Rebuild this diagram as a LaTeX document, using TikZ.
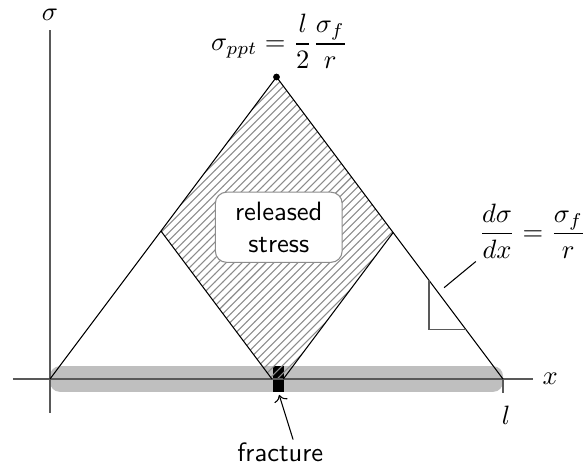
\documentclass[tikz,border=0pt]{standalone}
\usepackage{amsmath}
\usetikzlibrary{arrows.meta, patterns}
\definecolor{barcolor}{gray}{0.75}
\definecolor{axisgray}{gray}{0.35}
\definecolor{hatchgray}{gray}{0.55}
\definecolor{boxborder}{gray}{0.55}

\begin{document}
\begin{tikzpicture}[>=To]

  \useasboundingbox (-0.662,-1.245) rectangle (7.086,5.02);

  % Bar under load
  \fill[barcolor, rounded corners=0.13cm] (0,-0.17) rectangle (6,0.17);

  % Fracture
  \node[fill=black, inner sep=0pt, minimum width=0.15cm, minimum height=0.34cm] (fracture) at (3.025,0) {};

  % Released stress region
  \fill[pattern=north east lines, pattern color=hatchgray] (2.94,0) -- (1.47,1.96) -- (3,4) -- (4.545,1.94) -- (3.09,0) -- cycle;

  % Axes
  \draw[axisgray] (-0.49,0) -- (6.4,0) node[right, black] (xlabel) {$x$};
  \draw[axisgray] (0,-0.45) -- (0,4.62) node[above, black] (ylabel) {$\sigma$};
  \draw[axisgray] (6,0) -- (6,-0.19);
  \node (lenlabel) at (6.04,-0.48) {$l$};

  % Stress profile
  \draw (0,0) -- (3,4) -- (6,0);
  \draw (2.94,0) -- (1.47,1.96);
  \draw (3.09,0) -- (4.545,1.94);
  \fill (3,4) circle (0.045);
  \node (peaklabel) at (3.04,4.47) {$\sigma_{ppt} = \dfrac{l}{2}\dfrac{\sigma_f}{r}$};

  % Slope
  \draw[axisgray] (5.02,1.31) -- (5.02,0.66) -- (5.505,0.66);
  \coordinate (slopept) at (5.22,1.21);
  \node[anchor=west, inner sep=1pt] (slopelabel) at (5.64,1.96) {$\dfrac{d\sigma}{dx} = \dfrac{\sigma_f}{r}$};
  \draw (slopept) -- (slopelabel.south west);

  % Labels
  \node[draw=boxborder, fill=white, rounded corners=0.15cm, align=center, font=\sffamily,
        minimum width=1.68cm, minimum height=0.93cm] (released) at (3.03,2.01) {released\\stress};
  \node[font=\sffamily, inner sep=1pt] (fraclabel) at (3.05,-0.97) {fracture};
  \draw[->, shorten >=1pt] ([xshift=0.17cm]fraclabel.north) -- (fracture.south);

\end{tikzpicture}
\end{document}
